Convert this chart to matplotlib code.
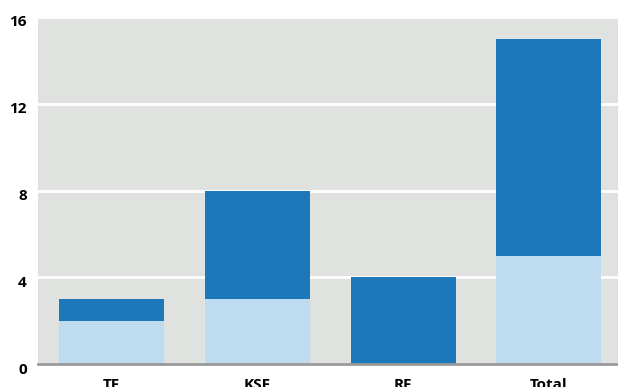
import numpy as np
import matplotlib
matplotlib.use("Agg")
from matplotlib import pyplot as plt
from matplotlib.transforms import ScaledTranslation

categories = ["TF", "KSF", "RF", "Total"]
lower = [2, 3, 0, 5]
upper = [1, 5, 4, 10]
yticks = [0, 4, 8, 12, 16]

plt.rcParams['font.family'] = ['Open Sans', 'DejaVu Sans']

fig = plt.figure(figsize=(6.18, 3.87), dpi=100)
ax = fig.add_axes([38 / 618, 23 / 387, 580 / 618, 347 / 387])
ax.set_facecolor("#dfe2df")

x = np.arange(len(categories))
ax.bar(x, lower, width=0.72, color="#bedbef", zorder=3)
ax.bar(x, upper, bottom=lower, width=0.72, color="#1c78b8", zorder=3)

ax.set_xlim(-0.505, 3.475)
ax.set_ylim(0, 16)
ax.set_yticks(yticks)
ax.set_yticklabels([str(t) for t in yticks], fontweight="bold", fontsize=11)
ax.yaxis.grid(True, color="white", linewidth=2, zorder=1)
ax.set_xticks(x)
ax.set_xticklabels(categories, fontweight="bold", fontsize=11)
ax.tick_params(axis="both", length=0)
ax.tick_params(axis="x", pad=10)
ax.tick_params(axis="y", pad=8)
# y labels sit a little below their gridlines
shift = ScaledTranslation(0, -4 / 100, fig.dpi_scale_trans)
for lab in ax.get_yticklabels():
    lab.set_transform(lab.get_transform() + shift)
for s in ["top", "right", "left"]:
    ax.spines[s].set_visible(False)
ax.spines["bottom"].set_color("#999999")
ax.spines["bottom"].set_linewidth(2)
ax.spines["bottom"].set_zorder(4)

fig.savefig("out.png", dpi=100)
